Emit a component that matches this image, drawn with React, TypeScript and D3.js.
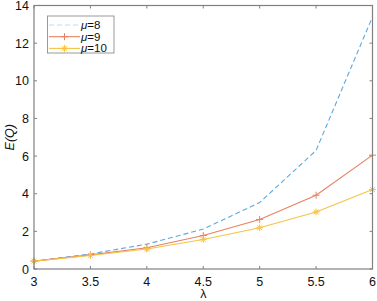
import React from "react";
import * as d3 from "d3";

const lambdas = [3, 3.5, 4, 4.5, 5, 5.5, 6];
const mu8 = [0.42, 0.8, 1.32, 2.12, 3.53, 6.3, 13.4];
const mu9 = [0.42, 0.75, 1.13, 1.78, 2.63, 3.92, 6.05];
const mu10 = [0.42, 0.72, 1.06, 1.57, 2.19, 3.03, 4.22];
const xTicks = [3, 3.5, 4, 4.5, 5, 5.5, 6];
const yTicks = [0, 2, 4, 6, 8, 10, 12, 14];
const seriesNames = ["8", "9", "10"];

const W = 377, H = 301;
const M = { left: 34, right: 4.5, top: 5.5, bottom: 32 };
const FONT = "'Liberation Sans', Arial, sans-serif";
const FS = 12.5;
const LFS = 11.5;

export default function App() {
  const x = d3.scaleLinear().domain([3, 6]).range([M.left, W - M.right]);
  const y = d3.scaleLinear().domain([0, 14]).range([H - M.bottom, M.top]);
  const line = d3.line<number>().x((_, i) => x(lambdas[i])).y((d) => y(d));
  const series = [
    { vals: mu8, color: "#5DA9DF", dash: "5,3", marker: "none", legendColor: "#BFDCF2" },
    { vals: mu9, color: "#E9805F", dash: "", marker: "plus", legendColor: "#E9805F" },
    { vals: mu10, color: "#F6C343", dash: "", marker: "star", legendColor: "#F6C343" },
  ];
  const marker = (type: string, cx: number, cy: number, color: string, key: string) => {
    const s = 3.5;
    if (type === "plus")
      return (
        <g key={key} stroke={color} strokeWidth={1}>
          <line x1={cx - s} x2={cx + s} y1={cy} y2={cy} />
          <line x1={cx} x2={cx} y1={cy - s} y2={cy + s} />
        </g>
      );
    if (type === "star")
      return (
        <g key={key} stroke={color} strokeWidth={1}>
          <line x1={cx - s} x2={cx + s} y1={cy} y2={cy} />
          <line x1={cx} x2={cx} y1={cy - s} y2={cy + s} />
          <line x1={cx - s * 0.7} x2={cx + s * 0.7} y1={cy - s * 0.7} y2={cy + s * 0.7} />
          <line x1={cx - s * 0.7} x2={cx + s * 0.7} y1={cy + s * 0.7} y2={cy - s * 0.7} />
        </g>
      );
    return null;
  };
  const x0 = M.left, x1 = W - M.right, y0 = H - M.bottom, y1 = M.top;
  return (
    <svg width={W} height={H} style={{ position: "absolute", left: 0, top: 0 }} fontFamily={FONT}>
      <rect x={0} y={0} width={W} height={H} fill="#fff" />
      {xTicks.map((t) => (
        <g key={"xt" + t} stroke="#808080" strokeWidth={1}>
          <line x1={x(t)} x2={x(t)} y1={y0} y2={y0 - 3} />
          <line x1={x(t)} x2={x(t)} y1={y1} y2={y1 + 3} />
        </g>
      ))}
      {yTicks.map((t) => (
        <g key={"yt" + t} stroke="#808080" strokeWidth={1}>
          <line x1={x0} x2={x0 + 3} y1={y(t)} y2={y(t)} />
          <line x1={x1} x2={x1 - 3} y1={y(t)} y2={y(t)} />
        </g>
      ))}
      {series.map((s, si) => (
        <path key={"l" + si} d={line(s.vals) || ""} fill="none" stroke={s.color} strokeWidth={1.1} strokeDasharray={s.dash} />
      ))}
      {series.map((s, si) => s.vals.map((v, i) => marker(s.marker, x(lambdas[i]), y(v), s.color, "m" + si + "-" + i)))}
      <rect x={x0} y={y1} width={x1 - x0} height={y0 - y1} fill="none" stroke="#808080" strokeWidth={1.2} />
      {xTicks.map((t) => (
        <text key={"xl" + t} x={x(t)} y={y0 + 16.5} fontSize={FS} textAnchor="middle" fill="#111">{t}</text>
      ))}
      {yTicks.map((t) => (
        <text key={"yl" + t} x={x0 - 5} y={y(t) + 4.5} fontSize={FS} textAnchor="end" fill="#111">{t}</text>
      ))}
      <text x={(x0 + x1) / 2} y={H - 3} fontSize={FS} textAnchor="middle" fill="#111">λ</text>
      <text transform={`translate(14, ${(y0 + y1) / 2}) rotate(-90)`} fontSize={FS} textAnchor="middle" fill="#111" fontStyle="italic">E(Q)</text>
      <rect x={47.5} y={16} width={66.5} height={37} fill="#fff" stroke="#808080" strokeWidth={0.8} />
      {series.map((s, si) => {
        const ly = 25 + si * 11.7;
        return (
          <g key={"lg" + si}>
            <line x1={49} x2={80} y1={ly} y2={ly} stroke={s.legendColor} strokeWidth={1.1} strokeDasharray={s.dash} />
            {marker(s.marker, 64.5, ly, s.color, "lm" + si)}
            <text x={81} y={ly + 4} fontSize={LFS} fill="#111">
              <tspan fontStyle="italic">μ</tspan>={seriesNames[si]}
            </text>
          </g>
        );
      })}
    </svg>
  );
}
